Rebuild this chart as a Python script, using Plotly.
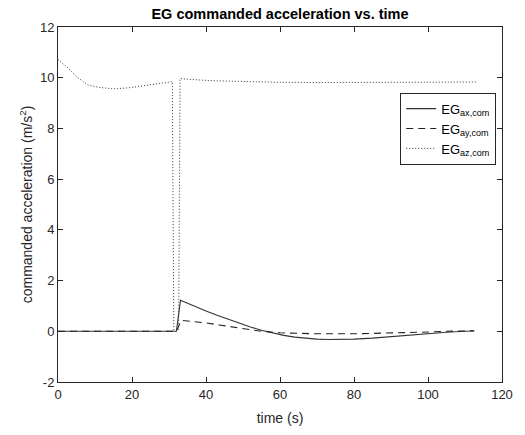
import plotly.graph_objects as go

# EG commanded acceleration components (m/s^2) vs. time (s)
t_ax = [0, 32.0, 33.1, 35, 37, 40, 43, 46, 49, 52, 55, 58, 61, 64, 67, 70, 73, 76, 80, 85, 90, 95, 100, 105, 110, 112.5]
v_ax = [0, 0, 1.22, 1.1, 0.98, 0.8, 0.63, 0.47, 0.31, 0.17, 0.04, -0.07, -0.16, -0.23, -0.28, -0.31, -0.325, -0.325, -0.31, -0.27, -0.21, -0.15, -0.09, -0.04, 0.0, 0.01]

t_ay = [0, 32.0, 33.3, 36, 40, 44, 49, 52, 55, 60, 70, 80, 90, 95, 100, 105, 112.5]
v_ay = [0, 0, 0.43, 0.39, 0.33, 0.24, 0.12, 0.05, 0.0, -0.06, -0.1, -0.1, -0.08, -0.05, -0.03, 0.0, 0.02]

t_az = [0, 2.8, 5, 8, 11, 15, 19, 22.5, 26, 29.6, 30.9, 31.3, 32.6, 33.0, 36, 42, 50, 60, 70, 80, 90, 100, 113]
v_az = [10.72, 10.37, 10.04, 9.72, 9.62, 9.56, 9.6, 9.67, 9.75, 9.82, 9.84, 0.05, 0.05, 9.97, 9.93, 9.88, 9.85, 9.82, 9.81, 9.81, 9.81, 9.82, 9.83]

x_ticks = [0, 20, 40, 60, 80, 100, 120]
y_ticks = [-2, 0, 2, 4, 6, 8, 10, 12]

line_color = "#262626"
font_family = "Liberation Sans, Arial, Helvetica, sans-serif"

fig = go.Figure()
fig.add_trace(go.Scatter(x=t_ax, y=v_ax, mode="lines", name="EG<sub>ax,com</sub>",
                         line=dict(color="#333333", width=1.1, dash="solid")))
fig.add_trace(go.Scatter(x=t_ay, y=v_ay, mode="lines", name="EG<sub>ay,com</sub>",
                         line=dict(color="#222222", width=1.1, dash="7px,5px")))
fig.add_trace(go.Scatter(x=t_az, y=v_az, mode="lines", name="EG<sub>az,com</sub>",
                         line=dict(color="#333333", width=1.0, dash="1px,2px")))

axis_common = dict(
    showgrid=False, zeroline=False, showline=True, linecolor=line_color, linewidth=1,
    mirror="ticks", ticks="inside", ticklen=5, tickcolor=line_color,
    tickfont=dict(size=13, color=line_color, family=font_family),
)

fig.update_layout(
    width=525, height=435,
    margin=dict(l=58, r=19, t=27, b=52),
    paper_bgcolor="white", plot_bgcolor="white",
    font=dict(family=font_family, color=line_color),
    title=dict(text="<b>EG commanded acceleration vs. time</b>", x=0.5, xref="paper", xanchor="center",
               y=1 - 14 / 435, yanchor="middle", font=dict(size=14.5, color="black", family=font_family)),
    xaxis=dict(range=[0, 120], tickvals=x_ticks, ticktext=[str(v) for v in x_ticks],
               title=dict(text="time (s)", font=dict(size=14, color=line_color), standoff=12),
               **axis_common),
    yaxis=dict(range=[-2, 12], tickvals=y_ticks, ticktext=[str(v) for v in y_ticks],
               title=dict(text="commanded acceleration (m/s<sup>2</sup>)", font=dict(size=14, color=line_color), standoff=4),
               **axis_common),
    legend=dict(x=0.987, y=0.815, xanchor="right", yanchor="top", bgcolor="white",
                bordercolor=line_color, borderwidth=1, font=dict(size=13, color="black", family=font_family),
                tracegroupgap=0, itemwidth=30),
    showlegend=True,
)

fig.write_html("out.html")
